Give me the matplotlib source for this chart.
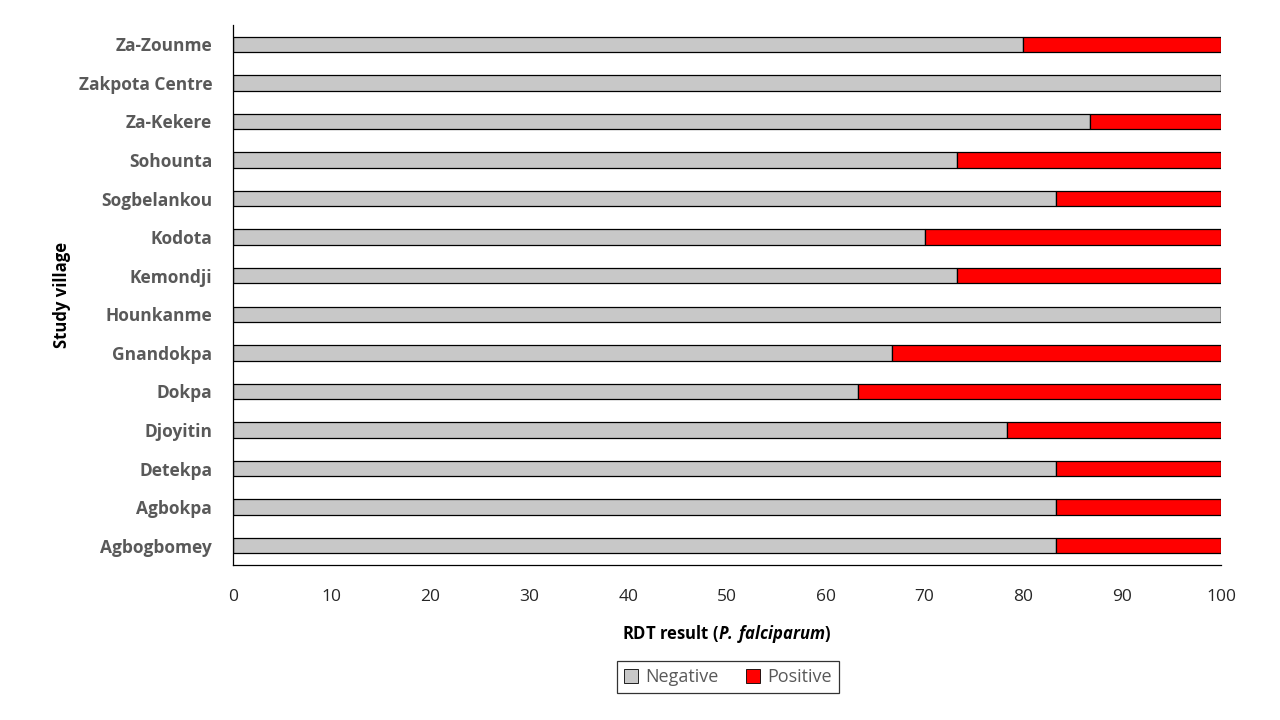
import matplotlib
matplotlib.use("Agg")
import matplotlib.pyplot as plt
from matplotlib.patches import Patch

villages = ["Za-Zounme", "Zakpota Centre", "Za-Kekere", "Sohounta", "Sogbelankou",
            "Kodota", "Kemondji", "Hounkanme", "Gnandokpa", "Dokpa", "Djoyitin",
            "Detekpa", "Agbokpa", "Agbogbomey"]
negative = [80.0, 100.0, 86.7, 73.3, 83.3, 70.0, 73.3, 100.0, 66.7, 63.3, 78.3, 83.3, 83.3, 83.3]
positive = [100 - v for v in negative]
xticks = list(range(0, 101, 10))

plt.rcParams['font.family'] = ['Open Sans', 'DejaVu Sans']
plt.rcParams['mathtext.fontset'] = 'custom'
plt.rcParams['mathtext.bfit'] = 'Open Sans:italic:bold'

fig = plt.figure(figsize=(12.8, 7.2), dpi=100)
ax = fig.add_axes([233/1280, (720-565)/720, 988/1280, 540/720])

y = list(range(len(villages)))[::-1]
ax.barh(y, negative, height=0.4, color="#c8c8c8", edgecolor="black", linewidth=0.9, label="Negative")
ax.barh(y, positive, left=negative, height=0.4, color="#ff0000", edgecolor="black", linewidth=0.9, label="Positive")

ax.set_xlim(0, 100)
ax.set_ylim(-0.5, len(villages) - 0.5)
ax.set_xticks(xticks)
ax.set_xticklabels([str(t) for t in xticks], fontsize=12.5, color="#262626")
ax.set_yticks(y)
ax.set_yticklabels(villages, fontsize=12.5, fontweight="bold", color="#595959")
ax.tick_params(axis="both", length=0)
ax.tick_params(axis="x", pad=17)
ax.tick_params(axis="y", pad=15)
for s in ["top", "right"]:
    ax.spines[s].set_visible(False)
for s in ["left", "bottom"]:
    ax.spines[s].set_linewidth(0.9)
    ax.spines[s].set_color("black")

ax.set_xlabel(r"RDT result ($\mathbfit{P.\,falciparum}$)", fontsize=12, fontweight="bold", labelpad=13)
ax.set_ylabel("Study village", fontsize=12, fontweight="bold")
ax.yaxis.set_label_coords((71 - 233) / 988, 0.5)

handles = [Patch(facecolor="#c8c8c8", edgecolor="black", linewidth=0.6, label="Negative"),
           Patch(facecolor="#ff0000", edgecolor="black", linewidth=0.6, label="Positive")]
leg = fig.legend(handles=handles, loc="center", bbox_to_anchor=(728/1280, 1 - 677/720), ncol=2,
                 frameon=True, fancybox=False, edgecolor="black", fontsize=13,
                 handlelength=0.8, handleheight=0.8, handletextpad=0.4, columnspacing=1.5,
                 borderpad=0.4, borderaxespad=0)
for t in leg.get_texts():
    t.set_color("#595959")
leg.get_frame().set_linewidth(0.9)

fig.savefig("out.png", dpi=100)
